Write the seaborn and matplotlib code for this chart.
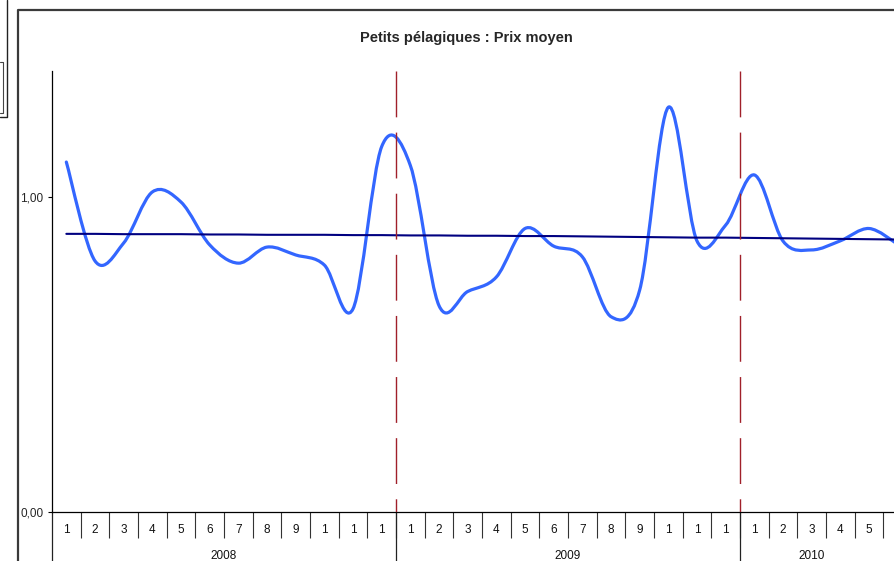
import matplotlib
matplotlib.use("Agg")
import matplotlib.pyplot as plt
import matplotlib.transforms as mtransforms
from matplotlib.path import Path
from matplotlib.patches import PathPatch
from matplotlib.lines import Line2D
import seaborn as sns
import numpy as np

# ---- data ----
years = ["2008", "2009", "2010"]
year_centers = [5.5, 17.5, 26.0]
year_bounds = [-0.5, 11.5, 23.5]

# month labels as shown (10, 11, 12 are cut to "1" in the source chart)
month_labels = (["1", "2", "3", "4", "5", "6", "7", "8", "9", "1", "1", "1"] * 2
                + ["1", "2", "3", "4", "5"])

prix_moyen = [1.111, 0.797, 0.854, 1.016, 0.984, 0.848, 0.790, 0.841, 0.816, 0.784, 0.645, 1.160,
              1.100, 0.655, 0.700, 0.746, 0.900, 0.844, 0.810, 0.620, 0.705, 1.285, 0.860, 0.911,
              1.070, 0.860, 0.832, 0.861, 0.900, 0.850]

tendance = [0.883, 0.883, 0.882, 0.882, 0.882, 0.881, 0.881, 0.880, 0.880, 0.880, 0.879, 0.879,
            0.878, 0.878, 0.877, 0.877, 0.876, 0.876, 0.875, 0.874, 0.873, 0.872, 0.871, 0.871,
            0.870, 0.869, 0.868, 0.867, 0.866, 0.865]

sns.set_style("white")
plt.rcParams["font.family"] = ["Liberation Sans", "DejaVu Sans"]
plt.rcParams["lines.scale_dashes"] = False

W, H = 894, 561
fig = plt.figure(figsize=(W / 100, H / 100), dpi=100)
ax = fig.add_axes([52 / W, 49 / H, (W - 52) / W, 441 / H])

idx = np.arange(len(prix_moyen))


def excel_smooth(xs, ys):
    """Bezier path through the points, like Excel's smoothed line."""
    pts = np.column_stack([xs, ys]).astype(float)
    n = len(pts)
    verts = [pts[0]]
    codes = [Path.MOVETO]
    for i in range(n - 1):
        p0 = pts[max(i - 1, 0)]
        p3 = pts[min(i + 2, n - 1)]
        c1 = pts[i] + (pts[i + 1] - p0) / 6
        c2 = pts[i + 1] - (p3 - pts[i]) / 6
        verts += [c1, c2, pts[i + 1]]
        codes += [Path.CURVE4] * 3
    return Path(verts, codes)


# smoothed average price
ax.add_patch(PathPatch(excel_smooth(idx, prix_moyen), facecolor="none",
                       edgecolor="#3366ff", lw=2.3, capstyle="round",
                       joinstyle="round", zorder=3))

# trend line
sns.lineplot(x=idx, y=tendance, color="#000080", lw=1.5, ax=ax, zorder=4)

# year separators (red dashed)
for b in year_bounds[1:]:
    ax.plot([b, b], [1.4, 0], color="#a0202a", lw=1,
            linestyle=(0, (33, 11)), zorder=5)

ax.set_xlim(-0.5, 28.87)
ax.set_ylim(0, 1.4)

ax.set_yticks([0, 1])
ax.set_yticklabels(["0,00", "1,00"], fontsize=8.5)
ax.tick_params(axis="y", length=3, width=0.8, pad=3, color="black", left=True)

ax.set_xticks(idx[:len(month_labels)])
ax.set_xticklabels(month_labels, fontsize=8.5, color="#111111")
ax.set_xticks(np.arange(0.5, 28.6, 1.0), minor=True)
ax.tick_params(axis="x", which="major", length=0, pad=8.5)
ax.tick_params(axis="x", which="minor", length=18.5, width=0.8,
               color="#333333", bottom=True)

for side in ["top", "right"]:
    ax.spines[side].set_visible(False)
for side in ["left", "bottom"]:
    ax.spines[side].set_color("black")
    ax.spines[side].set_linewidth(0.9)

trans = mtransforms.blended_transform_factory(ax.transData, ax.transAxes)
for b in year_bounds:
    ax.plot([b, b], [0, -0.112], color="#222222", lw=0.9,
            transform=trans, clip_on=False)
for c, y in zip(year_centers, years):
    ax.text(c, -0.099, y, transform=trans, ha="center", va="center",
            fontsize=8.5, color="#111111")

ax.set_xlabel("")
ax.set_ylabel("")

# title
fig.text(466.5 / W, 1 - 42 / H, "Petits pélagiques : Prix moyen",
         ha="center", va="baseline", fontsize=10.5, fontweight="bold")

# chart frame and leftover box at top-left of the screenshot
def px_line(xs, ys, **kw):
    fig.add_artist(Line2D([x / W for x in xs], [1 - y / H for y in ys],
                          transform=fig.transFigure, **kw))

px_line([18, 18, W], [H, 10, 10], color="#3a3a3a", lw=1.6)
px_line([0, 7, 7], [117, 117, 0], color="#222222", lw=1.0)
px_line([0, 2.5, 2.5, 0], [62, 62, 113, 113], color="#444444", lw=0.8)

fig.savefig("out.png", dpi=100, facecolor="white")
